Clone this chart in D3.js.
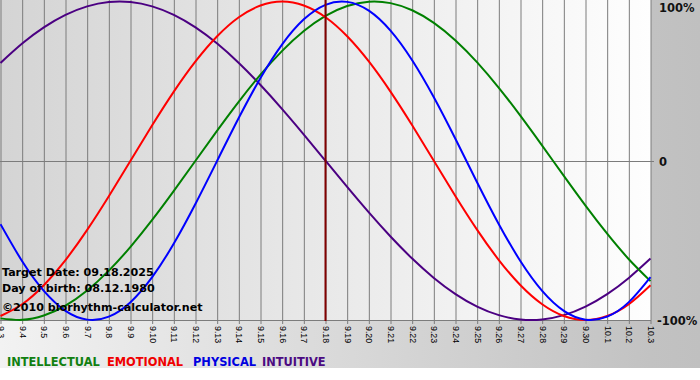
<!DOCTYPE html>
<html><head><meta charset="utf-8">
<script src="https://cdn.jsdelivr.net/npm/d3@7"></script>
<style>html,body{margin:0;padding:0;background:#fff;}svg{display:block;}</style>
</head><body>
<svg id="c" width="700" height="380"></svg>
<script>
const dates = ["9.3","9.4","9.5","9.6","9.7","9.8","9.9","9.10","9.11","9.12","9.13","9.14","9.15","9.16","9.17","9.18","9.19","9.20","9.21","9.22","9.23","9.24","9.25","9.26","9.27","9.28","9.29","9.30","10.1","10.2","10.3"];
const intellectual = [-0.9898,-0.9989,-0.9718,-0.9096,-0.8146,-0.6901,-0.5406,-0.3717,-0.1893,0,0.1893,0.3717,0.5406,0.6901,0.8146,0.9096,0.9718,0.9989,0.9898,0.9450,0.8660,0.7557,0.6182,0.4582,0.2817,0.0951,-0.0951,-0.2817,-0.4582,-0.6182,-0.7557];
const emotional = [-0.9749,-0.9010,-0.7818,-0.6235,-0.4339,-0.2225,0,0.2225,0.4339,0.6235,0.7818,0.9010,0.9749,1,0.9749,0.9010,0.7818,0.6235,0.4339,0.2225,0,-0.2225,-0.4339,-0.6235,-0.7818,-0.9010,-0.9749,-1,-0.9749,-0.9010,-0.7818];
const physical = [-0.3984,-0.6310,-0.8170,-0.9423,-0.9977,-0.9791,-0.8879,-0.7308,-0.5196,-0.2698,0,0.2698,0.5196,0.7308,0.8879,0.9791,0.9977,0.9423,0.8170,0.6310,0.3984,0.1362,-0.1362,-0.3984,-0.6310,-0.8170,-0.9423,-0.9977,-0.9791,-0.8879,-0.7308];
const intuitive = [0.6142,0.7357,0.8372,0.9158,0.9694,0.9966,0.9966,0.9694,0.9158,0.8372,0.7357,0.6142,0.4759,0.3247,0.1646,0,-0.1646,-0.3247,-0.4759,-0.6142,-0.7357,-0.8372,-0.9158,-0.9694,-0.9966,-0.9966,-0.9694,-0.9158,-0.8372,-0.7357,-0.6142];
const yTicks = [1, 0, -1];
const yTickLabels = ["100%", "0", "-100%"];
const targetDate = "9.18";
const infoLines = ["Target Date: 09.18.2025", "Day of birth: 08.12.1980", "\u00A92010 biorhythm-calculator.net"];
const legendNames = ["INTELLECTUAL", "EMOTIONAL", "PHYSICAL", "INTUITIVE"];

const series = [
  {name: "INTUITIVE", values: intuitive, color: "#4b0082"},
  {name: "INTELLECTUAL", values: intellectual, color: "#008000"},
  {name: "EMOTIONAL", values: emotional, color: "#ff0000"},
  {name: "PHYSICAL", values: physical, color: "#0000ff"}
];
const colorOf = {INTELLECTUAL: "#118011", EMOTIONAL: "#f00000", PHYSICAL: "#0000e0", INTUITIVE: "#4b0a82"};

const svg = d3.select("#c");
const W = 700, plotW = 651, plotH = 321;

const defs = svg.append("defs");
const g1 = defs.append("linearGradient").attr("id", "bg").attr("x1", 0).attr("x2", 1).attr("y1", 0).attr("y2", 0);
g1.append("stop").attr("offset", "0%").attr("stop-color", "#f2f2f2");
g1.append("stop").attr("offset", "93%").attr("stop-color", "#c2c2c2");
g1.append("stop").attr("offset", "100%").attr("stop-color", "#c0c0c0");
const g2 = defs.append("linearGradient").attr("id", "pl").attr("x1", 0).attr("x2", 1).attr("y1", 0).attr("y2", 0);
g2.append("stop").attr("offset", "0%").attr("stop-color", "#d4d4d4");
g2.append("stop").attr("offset", "100%").attr("stop-color", "#fefefe");

svg.append("rect").attr("x", 0).attr("y", 0).attr("width", W).attr("height", 368).attr("fill", "url(#bg)");
svg.append("rect").attr("x", 0).attr("y", 0).attr("width", plotW).attr("height", plotH).attr("fill", "url(#pl)");

const x = d3.scalePoint().domain(dates).range([0.5, 650.5]);
const y = d3.scaleLinear().domain([-1, 1]).range([320, 1.5]);

// vertical grid + ticks
const gx = svg.append("g").attr("transform", `translate(0,${plotH})`)
  .call(d3.axisBottom(x).tickSize(-plotH).tickSizeOuter(0).tickPadding(0));
gx.select(".domain").remove();
gx.selectAll(".tick line").attr("stroke", "#7c7c7c").attr("y2", 3).attr("y1", -plotH);
gx.selectAll(".tick text")
  .attr("transform", "rotate(90)")
  .attr("x", 5).attr("y", 0).attr("dy", "0.35em")
  .attr("text-anchor", "start")
  .attr("fill", "#000")
  .style("font-family", "'Liberation Sans', Arial, sans-serif")
  .style("font-size", "8.8px");

// bottom border
svg.append("line").attr("x1", 0).attr("x2", plotW).attr("y1", plotH - 0.5).attr("y2", plotH - 0.5).attr("stroke", "#7c7c7c");
// zero line
svg.append("line").attr("x1", 0).attr("x2", 654).attr("y1", Math.round(y(0)) + 0.5).attr("y2", Math.round(y(0)) + 0.5).attr("stroke", "#7c7c7c");

// right labels
svg.append("g").selectAll("text").data(yTicks).join("text")
  .attr("x", (d, i) => i === 2 ? 657 : 659)
  .attr("y", d => Math.max(y(d), 6.5) + 1)
  .attr("dy", "0.35em")
  .attr("fill", "#111")
  .style("font-family", "'DejaVu Sans', Verdana, sans-serif")
  .style("font-weight", "bold").style("font-size", "11.5px")
  .text((d, i) => yTickLabels[i]);

// curves
const line = d3.line().x((d, i) => x(dates[i])).y(d => y(d)).curve(d3.curveNatural);
svg.append("g").selectAll("path").data(series).join("path")
  .attr("d", s => line(s.values))
  .attr("fill", "none").attr("stroke", s => s.color).attr("stroke-width", 2);

// target line
svg.append("line").attr("x1", x(targetDate)).attr("x2", x(targetDate)).attr("y1", 0).attr("y2", plotH)
  .attr("stroke", "#800000").attr("stroke-width", 2);

// info text
svg.append("g").selectAll("text").data(infoLines).join("text")
  .attr("x", 2).attr("y", (d, i) => [276, 292, 311][i])
  .attr("fill", "#000")
  .style("font-family", "'DejaVu Sans', Verdana, sans-serif")
  .style("font-weight", "bold").style("font-size", "11.1px")
  .text(d => d);

// legend
const legendX = [7, 107, 193, 262];
svg.append("g").selectAll("text").data(legendNames).join("text")
  .attr("x", (d, i) => legendX[i]).attr("y", 366)
  .attr("fill", d => colorOf[d])
  .style("font-family", "'DejaVu Sans', Verdana, sans-serif")
  .style("font-weight", "bold").style("font-size", "11.4px")
  .text(d => d);
</script>
</body></html>
